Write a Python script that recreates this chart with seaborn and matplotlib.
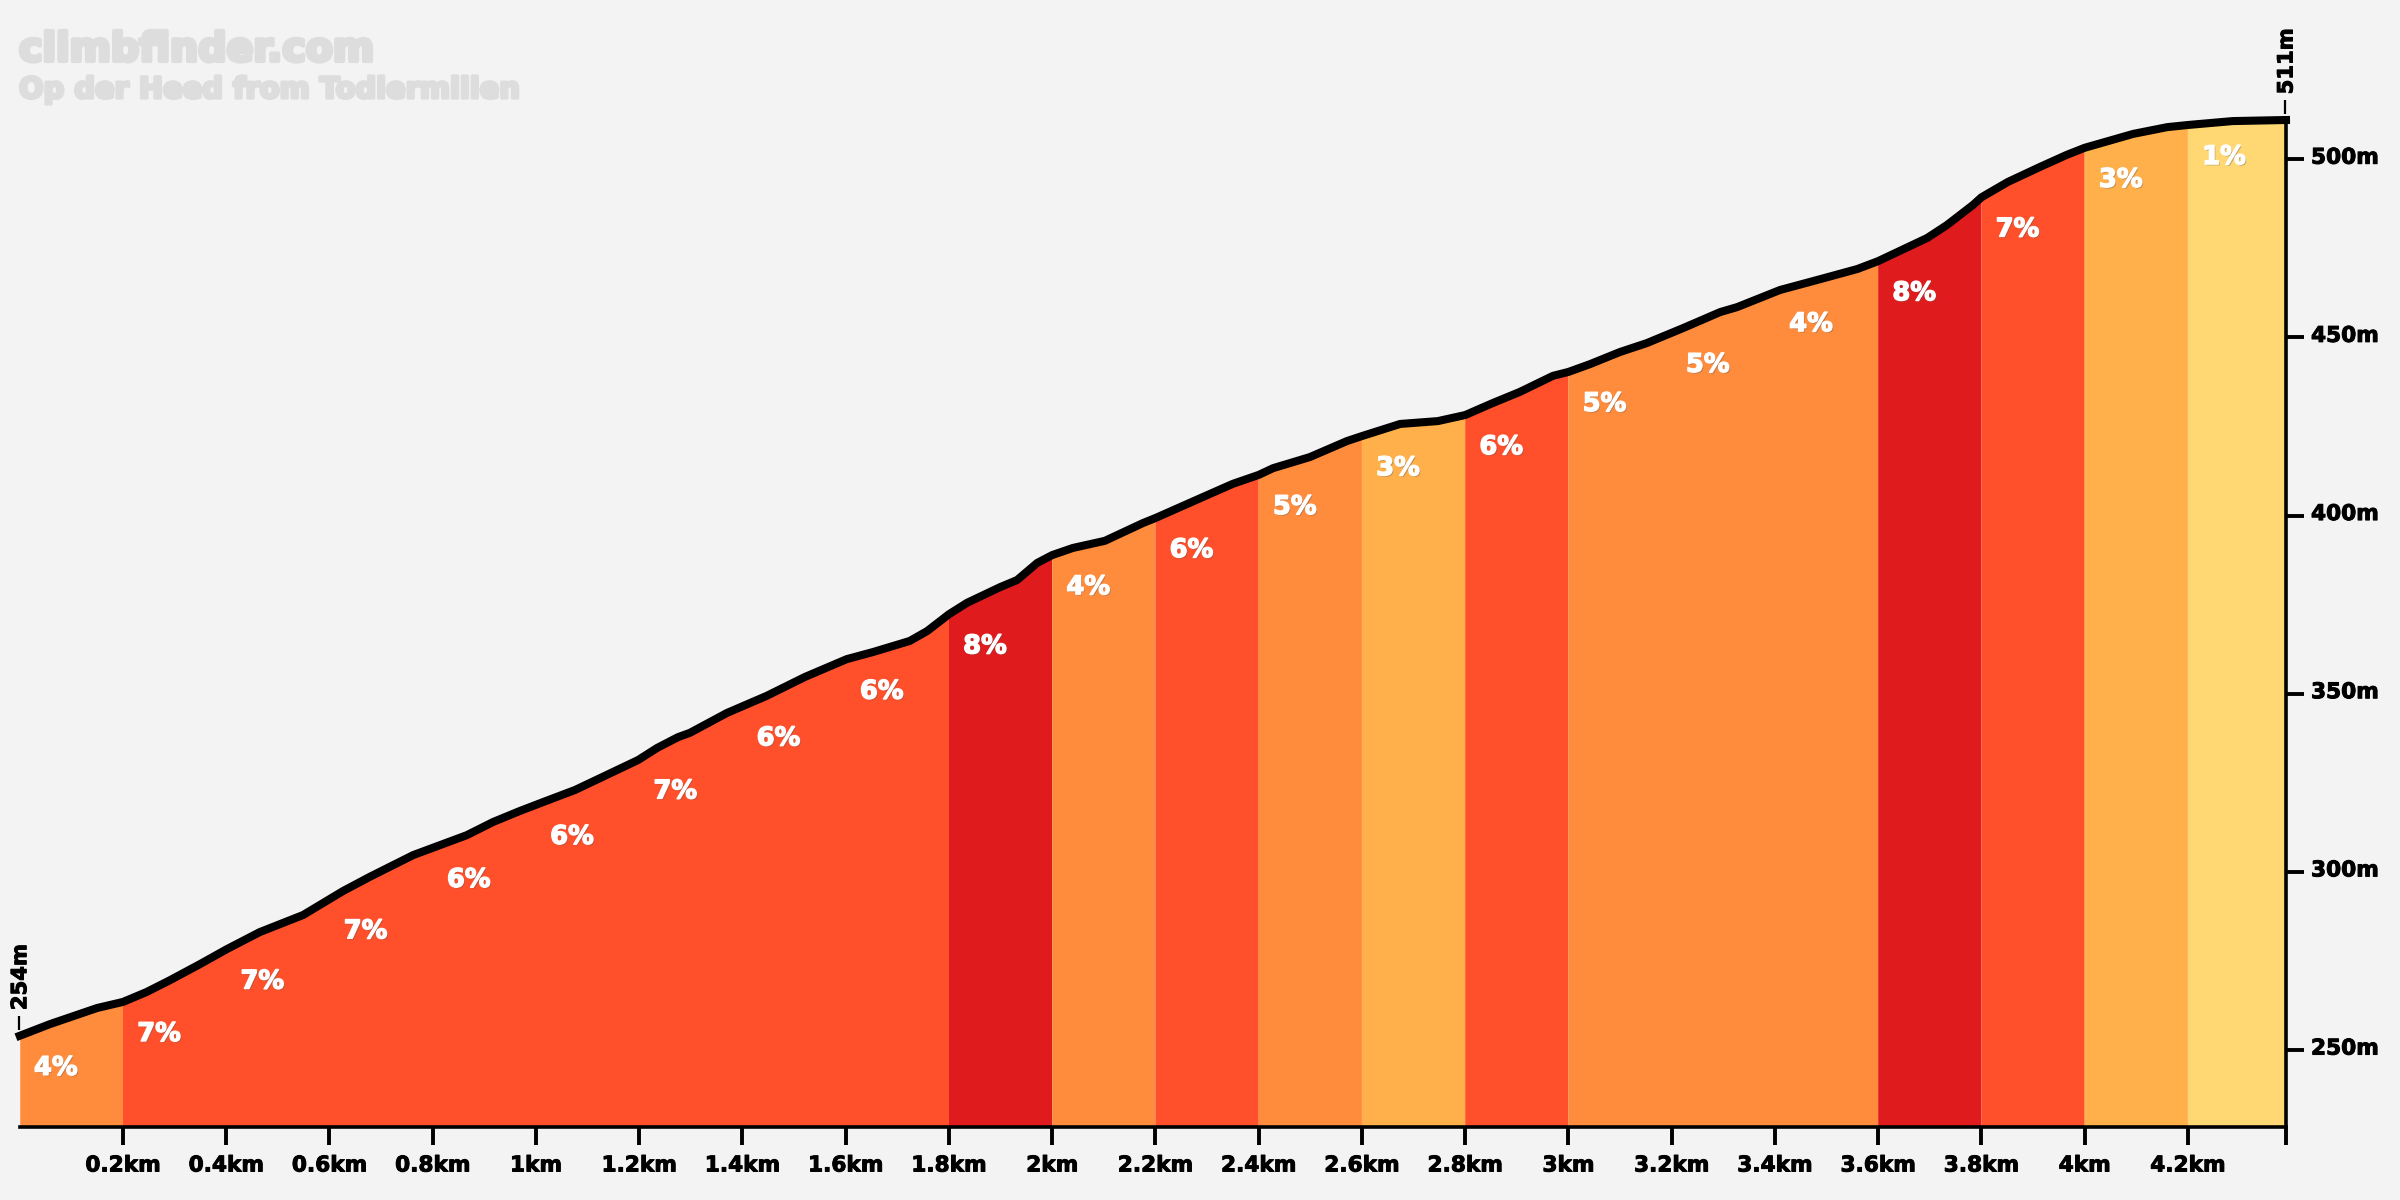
import numpy as np
import matplotlib
matplotlib.use("Agg")
import matplotlib.pyplot as plt
import matplotlib.patheffects as pe
from matplotlib.transforms import ScaledTranslation
import seaborn as sns

distance_km = [0, 0.059, 0.150, 0.2, 0.246, 0.291, 0.349, 0.401, 0.465, 0.549, 0.626, 0.678, 0.762, 0.866, 0.917,
               0.969, 1.014, 1.076, 1.124, 1.198, 1.235, 1.275, 1.298, 1.370, 1.447, 1.521, 1.602, 1.653, 1.724, 1.758,
               1.8, 1.835, 1.899, 1.932, 1.971, 2.0, 2.040, 2.102, 2.176, 2.2, 2.292, 2.350, 2.4, 2.428, 2.499,
               2.571, 2.6, 2.674, 2.747, 2.8, 2.854, 2.906, 2.970, 3.0, 3.042, 3.100, 3.152, 3.222, 3.294, 3.327,
               3.410, 3.497, 3.560, 3.6, 3.695, 3.733, 3.784, 3.8, 3.851, 3.913, 3.965, 4.0, 4.094, 4.160, 4.2,
               4.287, 4.39]
elevation_m = [254, 257.3, 261.8, 263.5, 266.3, 269.6, 274.1, 278.3, 283.1, 287.9, 294.6, 298.6, 304.7, 310.3, 314.0,
               317.1, 319.6, 323.0, 326.3, 331.4, 334.8, 337.8, 339.0, 344.6, 349.4, 354.7, 359.7, 361.7, 364.8, 367.6,
               372.3, 375.5, 379.9, 381.9, 386.7, 388.9, 390.9, 392.9, 397.9, 399.3, 405.2, 408.9, 411.4, 413.3, 416.4,
               420.9, 422.3, 425.7, 426.5, 428.2, 431.6, 434.7, 439.2, 440.3, 442.5, 445.9, 448.4, 452.6, 457.1, 458.5,
               463.3, 466.7, 469.2, 471.4, 477.9, 481.5, 487.2, 489.3, 493.6, 497.8, 501.2, 503.2, 507.1, 509.0, 509.6,
               510.7, 511]

segment_edges = [0, 0.2, 1.8, 2.0, 2.2, 2.4, 2.6, 2.8, 3.0, 3.6, 3.8, 4.0, 4.2, 4.39]
segment_colors = ["#FF8C3D", "#FF4F2B", "#E01B1D", "#FF8C3D", "#FF4F2B", "#FF8C3D", "#FFB04A",
                  "#FF4F2B", "#FF8C3D", "#E01B1D", "#FF4F2B", "#FFB04A", "#FFD873"]
label_starts = [round(0.2 * i, 1) for i in range(22)]
label_grades = [4, 7, 7, 7, 6, 6, 7, 6, 6, 8, 4, 6, 5, 3, 6, 5, 5, 4, 8, 7, 3, 1]
x_ticks = [round(0.2 * i, 1) for i in range(1, 22)] + [4.39]
x_tick_labels = ["0.2km", "0.4km", "0.6km", "0.8km", "1km", "1.2km", "1.4km", "1.6km", "1.8km", "2km", "2.2km",
                 "2.4km", "2.6km", "2.8km", "3km", "3.2km", "3.4km", "3.6km", "3.8km", "4km", "4.2km", ""]
y_ticks = [250, 300, 350, 400, 450, 500]
y_tick_labels = ["250m", "300m", "350m", "400m", "450m", "500m"]
title_main = "climbfinder.com"
title_sub = "Op der Heed from Todlermillen"

BG = "#F3F3F3"
sns.set_theme(style="white")
plt.rcParams["font.family"] = ["DejaVu Sans"]

fig = plt.figure(figsize=(24, 12), dpi=100, facecolor=BG)
W, H = 2400, 1200
ax = fig.add_axes([19.75 / W, (H - 1127) / H, (2286 - 19.75) / W, (1127 - 120) / H], facecolor=BG)

x = np.array(distance_km)
y = np.array(elevation_m)
for a, b, c in zip(segment_edges[:-1], segment_edges[1:], segment_colors):
    m = (x >= a) & (x <= b)
    ax.fill_between(x[m], 0, y[m], color=c, linewidth=0)

sns.lineplot(x=distance_km, y=elevation_m, color="black", linewidth=5.8, ax=ax, estimator=None, sort=False,
             solid_capstyle="projecting", solid_joinstyle="round", clip_on=False, zorder=5)

ax.set_xlim(0, 4.39)
ax.set_ylim(228.4, 511)

for s in ["top", "left"]:
    ax.spines[s].set_visible(False)
for s in ["bottom", "right"]:
    ax.spines[s].set_visible(True)
    ax.spines[s].set_color("black")
    ax.spines[s].set_linewidth(2.6)
    ax.spines[s].set_capstyle("projecting")

ax.yaxis.tick_right()
ax.set_xticks(x_ticks, x_tick_labels)
ax.set_yticks(y_ticks, y_tick_labels)
ax.tick_params(axis="both", length=13, width=2.8, color="black", labelcolor="black", labelsize=15.6, pad=5,
               bottom=True, right=True, left=False, top=False)
ax.tick_params(axis="x", pad=7.5)
for t in ax.get_xticklabels() + ax.get_yticklabels():
    t.set_fontweight("bold")
    t.set_path_effects([pe.withStroke(linewidth=0.7, foreground="black")])
up = ScaledTranslation(0, 2.5 / 72, fig.dpi_scale_trans)
for t in ax.get_yticklabels():
    t.set_verticalalignment("center_baseline")
    t.set_transform(t.get_transform() + up)

# gradient labels
for start, grade in zip(label_starts, label_grades):
    ax.text(start + 0.07, np.interp(start, x, y) - 9.0, f"{grade}%", color="white", fontsize=18.5, fontweight="bold",
            ha="center", va="center", zorder=6,
            path_effects=[pe.withSimplePatchShadow(offset=(1, -1), shadow_rgbFace="#555555", alpha=0.35),
                          pe.withStroke(linewidth=1.0, foreground="white")])

# start and end height markers
for xp, yp, lab in [(0, elevation_m[0], "254m"), (4.39, elevation_m[-1], "511m")]:
    ax.vlines(xp - 0.002, yp + 1.7, yp + 5.6, color="black", linewidth=1.6, clip_on=False, zorder=4)
    ax.text(xp + 0.001, yp + 7.2, lab, rotation=90, ha="center", va="bottom", fontsize=15.2, fontweight="bold",
            color="black", clip_on=False, path_effects=[pe.withStroke(linewidth=0.7, foreground="black")])

# watermark titles
grey = "#DDDDDD"
fig.text(19 / W, 1 - 61 / H, title_main, fontsize=28.5, fontweight="bold", color=grey, ha="left", va="baseline",
         path_effects=[pe.withStroke(linewidth=3, foreground=grey)])
fig.text(19 / W, 1 - 98 / H, title_sub, fontsize=20.8, fontweight="bold", color=grey, ha="left", va="baseline",
         path_effects=[pe.withStroke(linewidth=2.4, foreground=grey)])

fig.savefig("out.png", dpi=100, facecolor=BG)
